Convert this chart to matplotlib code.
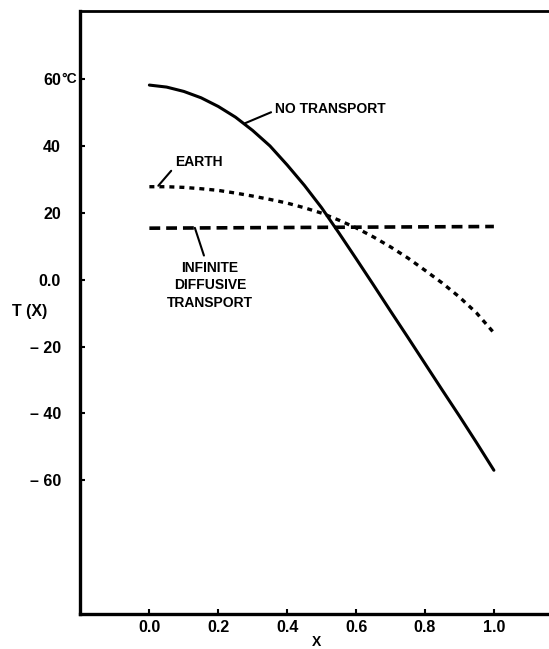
import numpy as np
import matplotlib
matplotlib.use("Agg")
import matplotlib.pyplot as plt

# -----------------------------
# Data
# -----------------------------
x_pos = [0.00, 0.05, 0.10, 0.15, 0.20, 0.25, 0.30, 0.35, 0.40, 0.45, 0.50,
         0.55, 0.60, 0.65, 0.70, 0.75, 0.80, 0.85, 0.90, 0.95, 1.00]

t_no_transport = [58.2, 57.6, 56.3, 54.4, 51.8, 48.6, 44.6, 40.0, 34.3, 28.2, 21.5,
                  14.0, 6.3, -1.5, -9.4, -17.2, -25.1, -33.0, -40.8, -48.8, -57.0]

t_earth = [27.8, 27.8, 27.6, 27.2, 26.7, 25.9, 25.0, 24.0, 22.9, 21.5, 19.9,
           17.8, 15.5, 12.8, 9.8, 6.5, 2.8, -1.0, -5.2, -10.0, -15.9]

x_diffusive = [0.0, 1.0]
t_diffusive = [15.4, 15.9]

x_ticks = [0.0, 0.2, 0.4, 0.6, 0.8, 1.0]
x_tick_labels = ["0.0", "0.2", "0.4", "0.6", "0.8", "1.0"]
y_ticks = [-60, -40, -20, 0, 20, 40, 60]
y_tick_labels = ["\u2013 60", "\u2013 40", "\u2013 20", "0.0", "20", "40", "60"]

FONT = ["Liberation Sans Narrow", "Liberation Sans", "DejaVu Sans"]


# -----------------------------
# Plot
# -----------------------------
def plot_chart():
    fig = plt.figure(figsize=(5.49, 6.49), dpi=100)
    ax = fig.add_axes([0.1466, 0.0539, 0.8534, 0.9299])

    ax.plot(x_pos, t_no_transport, color="black", lw=2.2, solid_capstyle="round")
    ax.plot(x_pos, t_earth, color="black", lw=2.4, dashes=(1.5, 1.5))
    ax.plot(x_diffusive, t_diffusive, color="black", lw=2.6, dashes=(3.0, 1.65))

    ax.set_xlim(-0.2, 1.16)
    ax.set_ylim(-100, 80.5)

    # spines: no right side, heavy left/bottom
    ax.spines["right"].set_visible(False)
    ax.spines["left"].set_linewidth(2.4)
    ax.spines["bottom"].set_linewidth(2.4)
    ax.spines["top"].set_linewidth(2.0)

    tick_kw = dict(family=FONT, fontweight="bold", fontsize=11.5, fontstretch="condensed")
    ax.set_xticks(x_ticks)
    ax.set_xticklabels(x_tick_labels, **tick_kw)
    ax.set_yticks(y_ticks)
    ax.set_yticklabels(y_tick_labels, **tick_kw)
    ax.tick_params(axis="x", direction="in", length=3.6, width=1.5, pad=4)
    ax.tick_params(axis="y", direction="in", length=3.6, width=1.5, pad=14)

    # degree sign after the 60 tick label
    ax.annotate("\u00b0C", xy=(0, 60), xycoords=("axes fraction", "data"),
                xytext=(-14, 0), textcoords="offset points",
                ha="left", va="center", family=FONT, fontweight="bold", fontsize=10)

    ax.set_ylabel("T (X)", rotation=0, ha="center", va="center", **tick_kw)
    ax.yaxis.set_label_coords(-0.108, 0.502)
    ax.set_xlabel("X", va="bottom", family=FONT, fontweight="bold", fontsize=10)
    ax.xaxis.set_label_coords(0.503, -0.058)

    # curve labels with leader lines
    label_kw = dict(family=FONT, fontweight="bold", fontsize=10)
    ax.annotate("NO TRANSPORT", xy=(0.278, 46.8), xytext=(0.365, 51.0),
                ha="left", va="center",
                arrowprops=dict(arrowstyle="-", lw=1.5, color="black",
                                relpos=(0, 0.4), shrinkA=1, shrinkB=0),
                **label_kw)
    ax.annotate("EARTH", xy=(0.026, 28.1), xytext=(0.074, 35.1),
                ha="left", va="center",
                arrowprops=dict(arrowstyle="-", lw=1.5, color="black",
                                relpos=(0, 0.2), shrinkA=1, shrinkB=0),
                **label_kw)
    ax.annotate("INFINITE\nDIFFUSIVE\nTRANSPORT", xy=(0.132, 15.5), xytext=(0.176, 5.6),
                ha="center", va="top", multialignment="center", linespacing=1.3,
                arrowprops=dict(arrowstyle="-", lw=1.5, color="black",
                                relpos=(0.45, 1.0), shrinkA=2, shrinkB=0),
                **label_kw)

    fig.savefig("out.png", dpi=100)
    plt.close(fig)


def main():
    plot_chart()


if __name__ == "__main__":
    main()
